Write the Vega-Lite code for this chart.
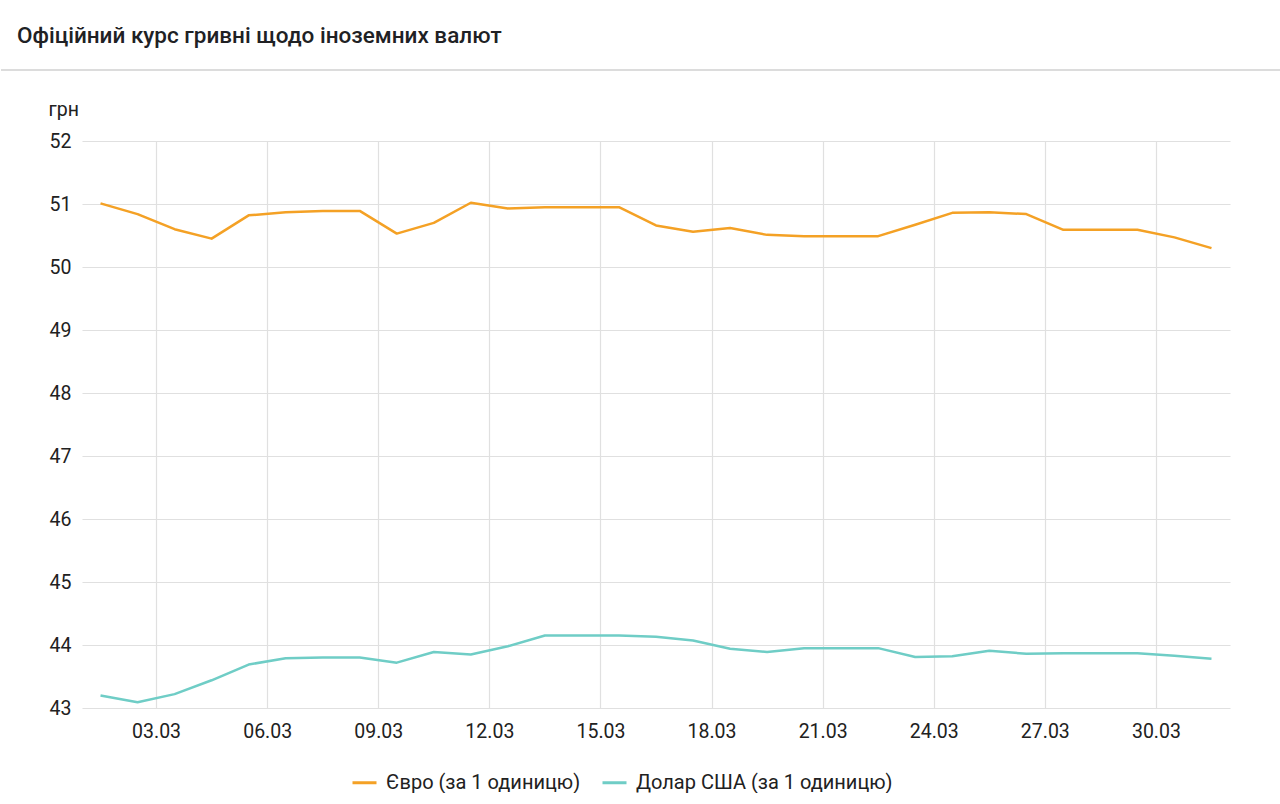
{
  "$schema": "https://vega.github.io/schema/vega-lite/v6.json",
  "background": "white",
  "padding": {"top": 24, "left": 0, "right": 0, "bottom": 0},
  "title": {
    "text": "Офіційний курс гривні щодо іноземних валют",
    "anchor": "start",
    "dx": 17,
    "offset": 8,
    "font": "Roboto",
    "fontSize": 22.5,
    "fontWeight": 500,
    "color": "#202124"
  },
  "config": {"view": {"stroke": null}, "font": "Roboto"},
  "spacing": 28,
  "vconcat": [
    {
      "width": 1280,
      "height": 15,
      "data": {"values": [{}]},
      "mark": {"type": "rule", "color": "#dcdcdc", "strokeWidth": 2},
      "encoding": {
        "y": {"datum": 0, "type": "quantitative", "scale": {"domain": [0, 1]}, "axis": null}
      }
    },
    {
      "width": 1280,
      "height": 567,
      "data": {
        "values": [
          {"date": "2026-03-01", "currency": "Євро (за 1 одиницю)", "rate": 51.01},
          {"date": "2026-03-02", "currency": "Євро (за 1 одиницю)", "rate": 50.84},
          {"date": "2026-03-03", "currency": "Євро (за 1 одиницю)", "rate": 50.60},
          {"date": "2026-03-04", "currency": "Євро (за 1 одиницю)", "rate": 50.45},
          {"date": "2026-03-05", "currency": "Євро (за 1 одиницю)", "rate": 50.82},
          {"date": "2026-03-06", "currency": "Євро (за 1 одиницю)", "rate": 50.87},
          {"date": "2026-03-07", "currency": "Євро (за 1 одиницю)", "rate": 50.89},
          {"date": "2026-03-08", "currency": "Євро (за 1 одиницю)", "rate": 50.89},
          {"date": "2026-03-09", "currency": "Євро (за 1 одиницю)", "rate": 50.53},
          {"date": "2026-03-10", "currency": "Євро (за 1 одиницю)", "rate": 50.70},
          {"date": "2026-03-11", "currency": "Євро (за 1 одиницю)", "rate": 51.02},
          {"date": "2026-03-12", "currency": "Євро (за 1 одиницю)", "rate": 50.93},
          {"date": "2026-03-13", "currency": "Євро (за 1 одиницю)", "rate": 50.95},
          {"date": "2026-03-14", "currency": "Євро (за 1 одиницю)", "rate": 50.95},
          {"date": "2026-03-15", "currency": "Євро (за 1 одиницю)", "rate": 50.95},
          {"date": "2026-03-16", "currency": "Євро (за 1 одиницю)", "rate": 50.66},
          {"date": "2026-03-17", "currency": "Євро (за 1 одиницю)", "rate": 50.56},
          {"date": "2026-03-18", "currency": "Євро (за 1 одиницю)", "rate": 50.62},
          {"date": "2026-03-19", "currency": "Євро (за 1 одиницю)", "rate": 50.51},
          {"date": "2026-03-20", "currency": "Євро (за 1 одиницю)", "rate": 50.49},
          {"date": "2026-03-21", "currency": "Євро (за 1 одиницю)", "rate": 50.49},
          {"date": "2026-03-22", "currency": "Євро (за 1 одиницю)", "rate": 50.49},
          {"date": "2026-03-23", "currency": "Євро (за 1 одиницю)", "rate": 50.67},
          {"date": "2026-03-24", "currency": "Євро (за 1 одиницю)", "rate": 50.86},
          {"date": "2026-03-25", "currency": "Євро (за 1 одиницю)", "rate": 50.87},
          {"date": "2026-03-26", "currency": "Євро (за 1 одиницю)", "rate": 50.84},
          {"date": "2026-03-27", "currency": "Євро (за 1 одиницю)", "rate": 50.59},
          {"date": "2026-03-28", "currency": "Євро (за 1 одиницю)", "rate": 50.59},
          {"date": "2026-03-29", "currency": "Євро (за 1 одиницю)", "rate": 50.59},
          {"date": "2026-03-30", "currency": "Євро (за 1 одиницю)", "rate": 50.47},
          {"date": "2026-03-31", "currency": "Євро (за 1 одиницю)", "rate": 50.30},
          {"date": "2026-03-01", "currency": "Долар США (за 1 одиницю)", "rate": 43.20},
          {"date": "2026-03-02", "currency": "Долар США (за 1 одиницю)", "rate": 43.09},
          {"date": "2026-03-03", "currency": "Долар США (за 1 одиницю)", "rate": 43.22},
          {"date": "2026-03-04", "currency": "Долар США (за 1 одиницю)", "rate": 43.44},
          {"date": "2026-03-05", "currency": "Долар США (за 1 одиницю)", "rate": 43.69},
          {"date": "2026-03-06", "currency": "Долар США (за 1 одиницю)", "rate": 43.79},
          {"date": "2026-03-07", "currency": "Долар США (за 1 одиницю)", "rate": 43.80},
          {"date": "2026-03-08", "currency": "Долар США (за 1 одиницю)", "rate": 43.80},
          {"date": "2026-03-09", "currency": "Долар США (за 1 одиницю)", "rate": 43.72},
          {"date": "2026-03-10", "currency": "Долар США (за 1 одиницю)", "rate": 43.89},
          {"date": "2026-03-11", "currency": "Долар США (за 1 одиницю)", "rate": 43.85},
          {"date": "2026-03-12", "currency": "Долар США (за 1 одиницю)", "rate": 43.98},
          {"date": "2026-03-13", "currency": "Долар США (за 1 одиницю)", "rate": 44.15},
          {"date": "2026-03-14", "currency": "Долар США (за 1 одиницю)", "rate": 44.15},
          {"date": "2026-03-15", "currency": "Долар США (за 1 одиницю)", "rate": 44.15},
          {"date": "2026-03-16", "currency": "Долар США (за 1 одиницю)", "rate": 44.13},
          {"date": "2026-03-17", "currency": "Долар США (за 1 одиницю)", "rate": 44.07},
          {"date": "2026-03-18", "currency": "Долар США (за 1 одиницю)", "rate": 43.94},
          {"date": "2026-03-19", "currency": "Долар США (за 1 одиницю)", "rate": 43.89},
          {"date": "2026-03-20", "currency": "Долар США (за 1 одиницю)", "rate": 43.95},
          {"date": "2026-03-21", "currency": "Долар США (за 1 одиницю)", "rate": 43.95},
          {"date": "2026-03-22", "currency": "Долар США (за 1 одиницю)", "rate": 43.95},
          {"date": "2026-03-23", "currency": "Долар США (за 1 одиницю)", "rate": 43.81},
          {"date": "2026-03-24", "currency": "Долар США (за 1 одиницю)", "rate": 43.82},
          {"date": "2026-03-25", "currency": "Долар США (за 1 одиницю)", "rate": 43.91},
          {"date": "2026-03-26", "currency": "Долар США (за 1 одиницю)", "rate": 43.86},
          {"date": "2026-03-27", "currency": "Долар США (за 1 одиницю)", "rate": 43.87},
          {"date": "2026-03-28", "currency": "Долар США (за 1 одиницю)", "rate": 43.87},
          {"date": "2026-03-29", "currency": "Долар США (за 1 одиницю)", "rate": 43.87},
          {"date": "2026-03-30", "currency": "Долар США (за 1 одиницю)", "rate": 43.83},
          {"date": "2026-03-31", "currency": "Долар США (за 1 одиницю)", "rate": 43.78}
        ]
      },
      "mark": {"type": "line", "interpolate": "linear", "strokeWidth": 2.5, "strokeJoin": "round"},
      "encoding": {
        "x": {
          "field": "date",
          "type": "temporal",
          "timeUnit": "utcyearmonthdate",
          "bandPosition": 0.5,
          "scale": {
            "type": "utc",
            "domain": [
              {"year": 2026, "month": 3, "date": 1, "utc": true},
              {"year": 2026, "month": 4, "date": 1, "utc": true}
            ],
            "range": [81, 1229]
          },
          "axis": {
            "title": null,
            "values": [
              {"year": 2026, "month": 3, "date": 3, "utc": true},
              {"year": 2026, "month": 3, "date": 6, "utc": true},
              {"year": 2026, "month": 3, "date": 9, "utc": true},
              {"year": 2026, "month": 3, "date": 12, "utc": true},
              {"year": 2026, "month": 3, "date": 15, "utc": true},
              {"year": 2026, "month": 3, "date": 18, "utc": true},
              {"year": 2026, "month": 3, "date": 21, "utc": true},
              {"year": 2026, "month": 3, "date": 24, "utc": true},
              {"year": 2026, "month": 3, "date": 27, "utc": true},
              {"year": 2026, "month": 3, "date": 30, "utc": true}
            ],
            "labelExpr": "utcFormat(datum.value, '%d.%m')",
            "grid": true,
            "gridColor": "#e0e0e0",
            "gridWidth": 1.2,
            "domain": false,
            "ticks": false,
            "tickSize": 0,
            "labelFont": "Roboto",
            "labelFontSize": 19.5,
            "labelColor": "#212121",
            "labelPadding": 14
          }
        },
        "y": {
          "field": "rate",
          "type": "quantitative",
          "scale": {"domain": [43, 52], "nice": false, "zero": false},
          "axis": {
            "title": "грн",
            "titleAngle": 0,
            "titleAlign": "left",
            "titleBaseline": "middle",
            "titleX": -34,
            "titleY": -32,
            "titleFont": "Roboto",
            "titleFontSize": 19.5,
            "titleFontWeight": "normal",
            "titleColor": "#212121",
            "values": [43, 44, 45, 46, 47, 48, 49, 50, 51, 52],
            "offset": -81,
            "grid": true,
            "gridColor": "#e0e0e0",
            "gridWidth": 1.2,
            "domain": false,
            "ticks": false,
            "tickSize": 0,
            "labelFont": "Roboto",
            "labelFontSize": 19.5,
            "labelColor": "#212121",
            "labelPadding": 11
          }
        },
        "color": {
          "field": "currency",
          "type": "nominal",
          "scale": {
            "domain": ["Євро (за 1 одиницю)", "Долар США (за 1 одиницю)"],
            "range": ["#f4a125", "#6fcdc6"]
          },
          "legend": {
            "title": null,
            "orient": "none",
            "legendX": 350,
            "legendY": 714,
            "direction": "horizontal",
            "symbolType": "stroke",
            "symbolSize": 576,
            "symbolStrokeWidth": 3,
            "labelFont": "Roboto",
            "labelFontSize": 20,
            "labelColor": "#212121",
            "labelLimit": 400,
            "labelOffset": 8,
            "columnPadding": 15,
            "padding": 0
          }
        }
      }
    }
  ]
}
